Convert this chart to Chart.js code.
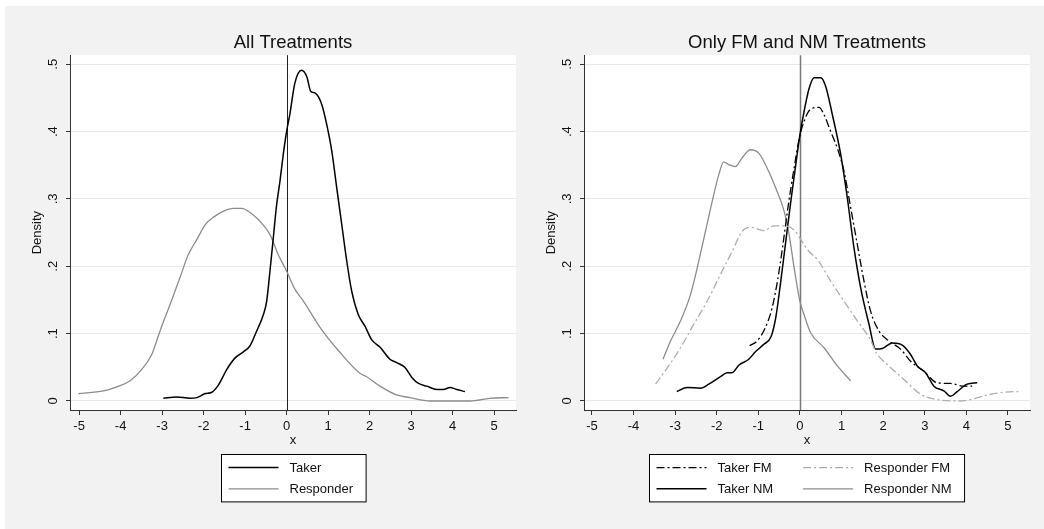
<!DOCTYPE html>
<html><head><meta charset="utf-8">
<script src="https://cdn.jsdelivr.net/npm/chart.js@4.4.1/dist/chart.umd.min.js"></script>
<style>
html,body{margin:0;padding:0;background:#fff;}
#bg{position:absolute;left:5px;top:6px;width:1039px;height:523px;background:#f2f2f2;}
.pane{position:absolute;top:0;width:522px;height:529px;}
canvas{display:block;}
</style></head><body>
<div id="bg"></div>
<div class="pane" style="left:0"><canvas id="c1" width="522" height="529"></canvas></div>
<div class="pane" style="left:522px"><canvas id="c2" width="522" height="529"></canvas></div>
<script>
// ---------- data ----------
const xTicks = [-5,-4,-3,-2,-1,0,1,2,3,4,5];
const yTicks = [0,0.1,0.2,0.3,0.4,0.5];
const yRange = [-0.0134, 0.5134];
const leftXRange = [-5.22, 5.53];
const rightXRange = [-5.19, 5.53];
const refLineX = 0;

const takerAllX = [-2.97,-2.65,-2.33,-2.16,-1.96,-1.80,-1.64,-1.44,-1.24,-1.04,-0.88,-0.72,-0.56,-0.48,-0.40,-0.32,-0.24,-0.16,-0.08,0.0,0.08,0.20,0.36,0.49,0.58,0.69,0.85,0.97,1.09,1.21,1.33,1.45,1.57,1.73,1.89,2.05,2.25,2.49,2.65,2.85,3.02,3.18,3.38,3.62,3.78,3.94,4.10,4.30];
const takerAllY = [0.004,0.006,0.004,0.005,0.011,0.013,0.024,0.047,0.064,0.073,0.082,0.104,0.128,0.148,0.193,0.242,0.291,0.326,0.366,0.400,0.426,0.472,0.491,0.481,0.460,0.457,0.440,0.410,0.371,0.316,0.262,0.208,0.163,0.128,0.111,0.091,0.080,0.062,0.057,0.050,0.035,0.026,0.022,0.017,0.017,0.020,0.017,0.014];

const respAllX = [-5.02,-4.41,-4.09,-3.77,-3.49,-3.25,-3.05,-2.81,-2.57,-2.37,-2.16,-1.96,-1.76,-1.52,-1.28,-1.08,-0.84,-0.60,-0.40,-0.20,0.0,0.20,0.41,0.81,1.29,1.77,1.93,2.25,2.65,2.97,3.46,4.42,4.90,5.35];
const respAllY = [0.011,0.015,0.021,0.030,0.047,0.069,0.104,0.143,0.183,0.217,0.240,0.262,0.273,0.282,0.286,0.286,0.278,0.264,0.247,0.217,0.193,0.166,0.148,0.109,0.072,0.041,0.036,0.022,0.009,0.005,0.000,0.000,0.004,0.005];

const takerFMX = [-1.21,-1.03,-0.83,-0.67,-0.54,-0.42,-0.30,-0.14,0.0,0.10,0.22,0.46,0.58,0.74,0.90,1.06,1.22,1.38,1.54,1.70,1.90,2.14,2.42,2.66,2.98,3.30,3.62,3.94,4.14];
const takerFMY = [0.082,0.089,0.109,0.138,0.178,0.227,0.282,0.346,0.395,0.415,0.431,0.436,0.425,0.400,0.375,0.341,0.287,0.232,0.178,0.133,0.104,0.089,0.077,0.059,0.044,0.027,0.026,0.022,0.022];

const takerNMX = [-2.96,-2.71,-2.39,-2.19,-1.91,-1.75,-1.63,-1.47,-1.23,-1.07,-0.87,-0.69,-0.58,-0.46,-0.34,-0.22,-0.10,0.0,0.10,0.22,0.34,0.50,0.62,0.78,0.98,1.14,1.30,1.46,1.66,1.82,1.98,2.22,2.46,2.66,2.82,3.02,3.22,3.46,3.62,3.78,4.02,4.26];
const takerNMY = [0.014,0.020,0.019,0.025,0.036,0.042,0.042,0.053,0.062,0.073,0.084,0.096,0.124,0.178,0.237,0.296,0.351,0.395,0.430,0.464,0.480,0.480,0.467,0.425,0.366,0.301,0.227,0.168,0.114,0.077,0.078,0.086,0.083,0.069,0.052,0.042,0.022,0.015,0.007,0.014,0.025,0.027];

const respFMX = [-3.47,-3.19,-2.87,-2.55,-2.23,-1.91,-1.63,-1.39,-1.19,-0.87,-0.63,-0.38,-0.14,0.10,0.22,0.42,0.74,1.06,1.38,1.71,1.83,2.10,2.50,2.90,3.30,3.82,4.10,4.58,5.22,5.30];
const respFMY = [0.025,0.049,0.079,0.114,0.148,0.188,0.222,0.252,0.258,0.253,0.260,0.260,0.254,0.232,0.222,0.210,0.178,0.148,0.119,0.089,0.072,0.054,0.032,0.010,0.002,0.000,0.002,0.010,0.014,0.013];

const respNMX = [-3.29,-3.11,-2.87,-2.63,-2.43,-2.27,-2.11,-1.95,-1.83,-1.71,-1.55,-1.39,-1.19,-0.99,-0.79,-0.58,-0.38,-0.26,-0.14,0.0,0.10,0.26,0.58,0.90,1.22];
const respNMY = [0.062,0.089,0.119,0.158,0.208,0.252,0.296,0.336,0.355,0.351,0.348,0.361,0.373,0.368,0.346,0.316,0.282,0.247,0.198,0.148,0.128,0.101,0.079,0.052,0.030];

// ---------- styling ----------
const FONT = '"Liberation Sans", Arial, Helvetica, sans-serif';
const TXT = '#111';
const DASHDOT = [8,3,2,3];
const pts = (xs, ys) => xs.map((x, i) => ({x: x, y: ys[i]}));
const fmtY = v => v === 0 ? '0' : v.toFixed(1).replace(/^0/, '');

function line(label, xs, ys, color, width, dash) {
  return {label, data: pts(xs, ys), borderColor: color, borderWidth: width,
    borderDash: dash || [], pointRadius: 0, fill: false, cubicInterpolationMode: 'monotone'};
}

const plotBg = {
  id: 'plotBg',
  beforeDraw(chart) {
    const {ctx, chartArea: a} = chart;
    ctx.save(); ctx.fillStyle = '#fff';
    ctx.fillRect(a.left, a.top, a.right - a.left, a.bottom - a.top);
    ctx.restore();
  }
};
const refLine = {
  id: 'refLine',
  beforeDatasetsDraw(chart, args, o) {
    const {ctx, chartArea: a} = chart;
    const x = Math.round(chart.scales.x.getPixelForValue(o.value)) + 0.5;
    ctx.save(); ctx.strokeStyle = o.color; ctx.lineWidth = o.width;
    ctx.beginPath(); ctx.moveTo(x, a.top); ctx.lineTo(x, a.bottom); ctx.stroke();
    ctx.restore();
  }
};
const boxLegend = {
  id: 'boxLegend',
  afterDraw(chart, args, o) {
    const {ctx, chartArea: a} = chart;
    const ds = chart.data.datasets;
    const cols = o.cols, rows = Math.ceil(ds.length / cols);
    ctx.save();
    ctx.font = '13px ' + FONT;
    const colW = [];
    for (let c = 0; c < cols; c++) {
      let w = 0;
      for (let r = 0; r < rows; r++) { const d = ds[r * cols + c]; if (d) w = Math.max(w, ctx.measureText(d.label).width); }
      colW.push(w);
    }
    const padL = 7, lineLen = 50, gapT = 11, colGap = 30, padR = 13, rowH = 21.3, padT = 2.4;
    let width = padL; const colX = [];
    for (let c = 0; c < cols; c++) { colX.push(width); width += lineLen + gapT + colW[c] + (c < cols - 1 ? colGap : padR); }
    const height = padT * 2 + rowH * rows;
    const left = Math.round((a.left + a.right) / 2 - width / 2) + 0.5;
    const top = Math.round(a.bottom + 44) + 0.5;
    ctx.fillStyle = '#fff'; ctx.fillRect(left, top, width, height);
    ctx.strokeStyle = '#000'; ctx.lineWidth = 1; ctx.setLineDash([]);
    ctx.strokeRect(left, top, width, height);
    ds.forEach((d, i) => {
      const r = Math.floor(i / cols), c = i % cols;
      const y = top + padT + rowH * (r + 0.5);
      const x0 = left + colX[c];
      ctx.strokeStyle = d.borderColor; ctx.lineWidth = d.borderWidth; ctx.setLineDash(d.borderDash || []);
      ctx.beginPath(); ctx.moveTo(x0, y); ctx.lineTo(x0 + lineLen, y); ctx.stroke();
      ctx.setLineDash([]);
      ctx.fillStyle = TXT; ctx.textBaseline = 'middle'; ctx.textAlign = 'left';
      ctx.fillText(d.label, x0 + lineLen + gapT, y + 0.5);
    });
    ctx.restore();
  }
};

function makeChart(id, title, datasets, xRange, padLeft, padRight, ref, cols) {
  const f = {family: FONT, size: 13};
  return new Chart(document.getElementById(id), {
    type: 'line',
    data: {datasets},
    plugins: [plotBg, refLine, boxLegend],
    options: {
      responsive: false, animation: false, devicePixelRatio: 1,
      layout: {padding: {left: padLeft, right: padRight, top: 0, bottom: 81}},
      plugins: {
        legend: {display: false}, tooltip: {enabled: false},
        title: {display: true, text: title, fullSize: false, color: TXT,
          font: {family: FONT, size: 18.5, weight: 'normal'}, padding: {top: 32, bottom: 1}},
        refLine: ref,
        boxLegend: {cols}
      },
      scales: {
        x: {type: 'linear', position: 'bottom', min: xRange[0], max: xRange[1],
          afterBuildTicks: s => { s.ticks = xTicks.map(v => ({value: v})); },
          afterFit: s => { s.height = 38; s.paddingLeft = 0; s.paddingRight = 0; },
          ticks: {color: TXT, font: f, padding: 4, maxRotation: 0, autoSkip: false, callback: v => String(v)},
          grid: {drawOnChartArea: false, tickColor: '#333', tickLength: 5},
          border: {color: '#333', width: 1},
          title: {display: true, text: 'x', color: TXT, font: f, padding: 0}
        },
        y: {type: 'linear', position: 'left', min: yRange[0], max: yRange[1],
          afterBuildTicks: s => { s.ticks = yTicks.map(v => ({value: v})); },
          afterFit: s => { s.width = 45; s.paddingTop = 0; s.paddingBottom = 0; },
          ticks: {color: TXT, font: f, padding: 7, minRotation: 90, maxRotation: 90, crossAlign: 'center', autoSkip: false, callback: v => fmtY(v)},
          grid: {color: '#e8e8e8', lineWidth: 1, tickColor: '#333', tickLength: 4},
          border: {color: '#333', width: 1},
          title: {display: true, text: 'Density', color: TXT, font: f, padding: {top: 5, bottom: 0}}
        }
      }
    }
  });
}

makeChart('c1', 'All Treatments', [
  line('Taker', takerAllX, takerAllY, '#000', 1.5),
  line('Responder', respAllX, respAllY, '#8c8c8c', 1.3)
], leftXRange, 25, 6, {value: refLineX, color: '#222', width: 1}, 1);

makeChart('c2', 'Only FM and NM Treatments', [
  line('Taker FM', takerFMX, takerFMY, '#000', 1.3, DASHDOT),
  line('Responder FM', respFMX, respFMY, '#adadad', 1.3, DASHDOT),
  line('Taker NM', takerNMX, takerNMY, '#000', 1.5),
  line('Responder NM', respNMX, respNMY, '#8c8c8c', 1.3)
], rightXRange, 17, 14, {value: refLineX, color: '#7a7a7a', width: 1.5}, 2);
</script>
</body></html>
